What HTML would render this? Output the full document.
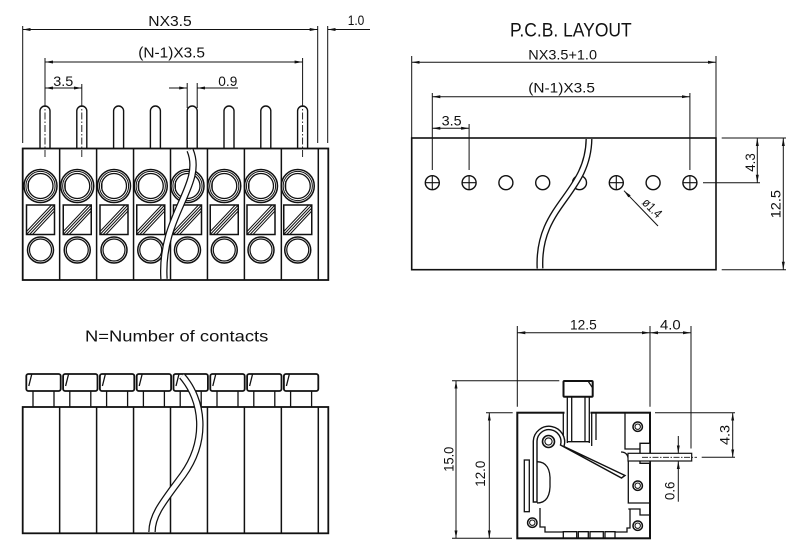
<!DOCTYPE html>
<html><head><meta charset="utf-8"><style>
html,body{margin:0;padding:0;background:#fff;}
svg{display:block}
text{font-family:"Liberation Sans",sans-serif;fill:#111;stroke:none;}
</style></head><body>
<svg width="800" height="555" viewBox="0 0 800 555" xmlns="http://www.w3.org/2000/svg">
<defs>
<marker id="a" viewBox="0 0 8 4" refX="8" refY="2" markerWidth="8" markerHeight="4" markerUnits="userSpaceOnUse" orient="auto-start-reverse"><path d="M0,0.5L8,2L0,3.5z" fill="#111"/></marker>
<g id="cell" stroke="#111" fill="none" stroke-width="1">
<circle cx="0" cy="186" r="16.5" stroke-width="1.5"/>
<circle cx="0" cy="186" r="14.6"/>
<circle cx="0" cy="186" r="12.5" stroke-width="1.3"/>
<path d="M-12,181V191"/>
<rect x="-14" y="205" width="28" height="29.5" stroke-width="1.5"/>
<path d="M-14,231.5L11,205M-14,234.5L14,205M-11,234.5L14,208M-8,234.5L14,211"/>
<circle cx="0" cy="250" r="13" stroke-width="1.5"/>
<circle cx="0" cy="250" r="11" stroke-width="1.2"/>
</g>
<path id="pin" d="M-5,148.5V111A5,5 0 0 1 5,111V148.5" fill="#fff" stroke="#111" stroke-width="1.4"/>
<g id="cap" stroke="#111" fill="none">
<rect x="-17.2" y="374" width="34.4" height="17" rx="2" stroke-width="1.8" fill="#fff"/>
<path d="M-11.7,374L-14.7,386M-10.5,391V407M10.5,391V407" stroke-width="1.3"/>
</g>
<g id="hole" stroke="#111" fill="none" stroke-width="1.4"><circle cx="0" cy="0" r="7"/></g>
<g id="holex" stroke="#111" fill="none" stroke-width="1.4"><circle cx="0" cy="0" r="7"/><path d="M-7,0H7M0,-7V7" stroke-width="1.1"/></g>
<g id="sc" stroke="#111" fill="none"><circle cx="0" cy="0" r="4.7" stroke-width="1.5"/><circle cx="0" cy="0" r="2.7" stroke-width="1"/></g>
</defs>

<g stroke="#111" fill="none" stroke-width="1">

<!-- ===== TOP-LEFT FRONT VIEW ===== -->
<line x1="22.7" y1="29.5" x2="317.7" y2="29.5" marker-start="url(#a)" marker-end="url(#a)"/>
<line x1="370" y1="29.5" x2="327.7" y2="29.5" marker-end="url(#a)"/>
<path d="M22.7,26V143M317.7,26V143M327.7,26V143"/>
<line x1="45" y1="62" x2="302.6" y2="62" marker-start="url(#a)" marker-end="url(#a)"/>
<path d="M45,58V100M302.6,58V100M81.8,84V100"/>
<line x1="45" y1="88" x2="81.8" y2="88" marker-start="url(#a)" marker-end="url(#a)"/>
<path d="M187.2,83V108M197.2,83V108"/>
<line x1="169" y1="88" x2="187.2" y2="88" marker-end="url(#a)"/>
<line x1="238" y1="88" x2="197.2" y2="88" marker-end="url(#a)"/>

<use href="#pin" x="45"/>
<use href="#pin" x="81.8"/>
<use href="#pin" x="118.6"/>
<use href="#pin" x="155.4"/>
<use href="#pin" x="192.2"/>
<use href="#pin" x="229"/>
<use href="#pin" x="265.8"/>
<use href="#pin" x="302.6"/>
<path d="M45,100V157M81.8,100V157M302.6,100V157" stroke-dasharray="7,2,1.5,2" stroke-width="0.9"/>

<rect x="22.7" y="148.5" width="305.6" height="131.5" stroke-width="1.8"/>
<path d="M59.65,148.5V280M96.6,148.5V280M133.55,148.5V280M170.5,148.5V280M207.45,148.5V280M244.4,148.5V280M281.35,148.5V280M318.3,148.5V280" stroke-width="1.5"/>
<use href="#cell" x="40.5"/>
<use href="#cell" x="77.25"/>
<use href="#cell" x="114"/>
<use href="#cell" x="150.75"/>
<use href="#cell" x="187.5"/>
<use href="#cell" x="224.25"/>
<use href="#cell" x="261"/>
<use href="#cell" x="297.75"/>
<path d="M190,150C205,185 160,215 164,279" stroke-width="7.5"/>
<path d="M190,150C205,185 160,215 164,279" stroke="#fff" stroke-width="5"/>

<!-- ===== TOP-RIGHT PCB LAYOUT ===== -->
<line x1="411.7" y1="62.3" x2="716" y2="62.3" marker-start="url(#a)" marker-end="url(#a)"/>
<path d="M411.7,56V138M716,56V138"/>
<line x1="432.3" y1="96.7" x2="689.9" y2="96.7" marker-start="url(#a)" marker-end="url(#a)"/>
<line x1="432.3" y1="128.3" x2="469.1" y2="128.3" marker-start="url(#a)" marker-end="url(#a)"/>
<path d="M432.3,93V170M469.1,124V170M689.9,93V170"/>
<rect x="411.7" y="138" width="304.3" height="131.7" stroke-width="1.6"/>
<use href="#holex" x="432.3" y="182.7"/>
<use href="#holex" x="469.1" y="182.7"/>
<use href="#hole" x="505.9" y="182.7"/>
<use href="#hole" x="542.7" y="182.7"/>
<use href="#hole" x="579.5" y="182.7"/>
<use href="#holex" x="616.3" y="182.7"/>
<use href="#hole" x="653.1" y="182.7"/>
<use href="#holex" x="689.9" y="182.7"/>
<path d="M589,139C588,195 537,205 540,268.5" stroke-width="7"/>
<path d="M589,139C588,195 537,205 540,268.5" stroke="#fff" stroke-width="4.3"/>
<line x1="624" y1="190.7" x2="658" y2="226" marker-start="url(#a)"/>
<path d="M703,182.7H760M721.7,138H786M721.7,269.7H786"/>
<line x1="757.3" y1="138" x2="757.3" y2="182.7" marker-start="url(#a)" marker-end="url(#a)"/>
<line x1="783.3" y1="138" x2="783.3" y2="269.7" marker-start="url(#a)" marker-end="url(#a)"/>

<!-- ===== BOTTOM-LEFT TOP VIEW ===== -->
<use href="#cap" x="43.5"/>
<use href="#cap" x="80.3"/>
<use href="#cap" x="117.1"/>
<use href="#cap" x="153.9"/>
<use href="#cap" x="190.7"/>
<use href="#cap" x="227.5"/>
<use href="#cap" x="264.3"/>
<use href="#cap" x="301.1"/>
<rect x="22.7" y="407" width="305.6" height="126.3" stroke-width="1.8"/>
<path d="M59.65,407V533.3M96.6,407V533.3M133.55,407V533.3M170.5,407V533.3M207.45,407V533.3M244.4,407V533.3M281.35,407V533.3M318.3,407V533.3" stroke-width="1.5"/>
<path d="M182,376C203,400 208,440 183,475C163,502 152,515 152,532" stroke-width="7.5"/>
<path d="M182,376C203,400 208,440 183,475C163,502 152,515 152,532" stroke="#fff" stroke-width="5"/>

<!-- ===== BOTTOM-RIGHT SIDE VIEW ===== -->
<line x1="517.3" y1="332.7" x2="650" y2="332.7" marker-start="url(#a)" marker-end="url(#a)"/>
<line x1="650" y1="332.7" x2="691" y2="332.7" marker-start="url(#a)" marker-end="url(#a)"/>
<path d="M517.3,326V406.7M650,326V406.7M691,326V448.5"/>
<line x1="456" y1="380.7" x2="456" y2="538.3" marker-start="url(#a)" marker-end="url(#a)"/>
<path d="M452,380.7H559.3M452,538.3H512M486,412.7H512.7"/>
<line x1="489.3" y1="412.7" x2="489.3" y2="538.3" marker-start="url(#a)" marker-end="url(#a)"/>
<path d="M655,412.7H735M701.7,457.3H735"/>
<line x1="732.7" y1="412.7" x2="732.7" y2="457.3" marker-start="url(#a)" marker-end="url(#a)"/>
<line x1="678.3" y1="436" x2="678.3" y2="453.3" marker-end="url(#a)"/>
<line x1="678.3" y1="501.7" x2="678.3" y2="461" marker-end="url(#a)"/>

<rect x="517.3" y="412.7" width="132.7" height="125.6" stroke-width="2"/>
<rect x="564.5" y="411" width="26" height="3.4" fill="#fff" stroke="none"/>
<g stroke-width="1.3">
<path d="M563.3,412.7V441M591.7,412.7V446M596,412.7V440"/>
<path d="M567.3,396.7V443M589.3,396.7V443M571.7,396.7V441.7M585,396.7V441.7M567.3,441.7H589.3"/>
<path d="M533.3,502V441A15.7,15.7 0 1 1 564,446.5L625,475.5L621.5,478L560.5,445A12,12 0 1 0 537,441V502Z" fill="#fff" stroke-width="1.4"/>
<circle cx="548.5" cy="441.5" r="6" stroke-width="1.6"/>
<circle cx="548.5" cy="441.5" r="3.6" stroke-width="1.1"/>
<rect x="524.3" y="460" width="5" height="51.7"/>
<path d="M537,461.7Q551,462 550,482Q551,503 537,503"/>
<path d="M625,412.7V449H640M621,452Q628,452 628.3,460V503H650M628.3,509H640V515H650"/>
<path d="M540,508V527H545V532H563M615,532H627V528H630V509"/>
<path d="M563.3,538.3V531.7H576.7V538.3M578.3,538.3V531.7H588.3V538.3M590,538.3V531.7H603.3V538.3M605,538.3V531.7H615V538.3"/>
<rect x="640" y="443.3" width="10" height="20" stroke-width="1.4" fill="#fff"/>
<rect x="628" y="453.3" width="63.7" height="7.7" fill="#fff" stroke-width="1.2"/>
</g>
<path d="M642,457.3H697" stroke-dasharray="6,1.5,1.5,1.5" stroke-width="0.8"/>
<rect x="563.5" y="381" width="29.2" height="15.7" rx="1" stroke-width="2" fill="#fff"/>
<path d="M588,381L592.7,388" stroke-width="1.2"/>
<use href="#sc" x="532.3" y="522.7"/>
<use href="#sc" x="637.7" y="426.7"/>
<use href="#sc" x="637.7" y="485.7"/>
<use href="#sc" x="637.7" y="525.7"/>
</g>

<!-- ===== TEXT ===== -->
<text x="148.3" y="26" font-size="15" textLength="43.4" lengthAdjust="spacingAndGlyphs">NX3.5</text>
<text x="347.7" y="25" font-size="14" textLength="16.6" lengthAdjust="spacingAndGlyphs">1.0</text>
<text x="138.3" y="57.5" font-size="15" textLength="66.7" lengthAdjust="spacingAndGlyphs">(N-1)X3.5</text>
<text x="53.3" y="86" font-size="14" textLength="20" lengthAdjust="spacingAndGlyphs">3.5</text>
<text x="218.3" y="86" font-size="14" textLength="19" lengthAdjust="spacingAndGlyphs">0.9</text>

<text x="510" y="36.7" font-size="19" textLength="121.7" lengthAdjust="spacingAndGlyphs">P.C.B. LAYOUT</text>
<text x="528.3" y="59.3" font-size="14" textLength="68.7" lengthAdjust="spacingAndGlyphs">NX3.5+1.0</text>
<text x="528.3" y="92.5" font-size="14" textLength="66.7" lengthAdjust="spacingAndGlyphs">(N-1)X3.5</text>
<text x="441.7" y="125.7" font-size="14" textLength="20" lengthAdjust="spacingAndGlyphs">3.5</text>
<text transform="translate(755,171.7) rotate(-90)" font-size="14" textLength="18.4" lengthAdjust="spacingAndGlyphs">4.3</text>
<text transform="translate(780.7,218.3) rotate(-90)" font-size="14" textLength="28.3" lengthAdjust="spacingAndGlyphs">12.5</text>
<text transform="translate(649.2,211.1) rotate(45)" x="-11" font-size="13" textLength="22" lengthAdjust="spacingAndGlyphs">ø1.4</text>

<text x="85" y="341.7" font-size="16" textLength="183.3" lengthAdjust="spacingAndGlyphs">N=Number of contacts</text>

<text x="570" y="329.3" font-size="14" textLength="26.7" lengthAdjust="spacingAndGlyphs">12.5</text>
<text x="660" y="329.3" font-size="14" textLength="20.7" lengthAdjust="spacingAndGlyphs">4.0</text>
<text transform="translate(453.3,471.7) rotate(-90)" font-size="14" textLength="25" lengthAdjust="spacingAndGlyphs">15.0</text>
<text transform="translate(485,486.7) rotate(-90)" font-size="14" textLength="26" lengthAdjust="spacingAndGlyphs">12.0</text>
<text transform="translate(729.3,445) rotate(-90)" font-size="14" textLength="20" lengthAdjust="spacingAndGlyphs">4.3</text>
<text transform="translate(674.3,500) rotate(-90)" font-size="14" textLength="18.3" lengthAdjust="spacingAndGlyphs">0.6</text>
</svg>
</body></html>
